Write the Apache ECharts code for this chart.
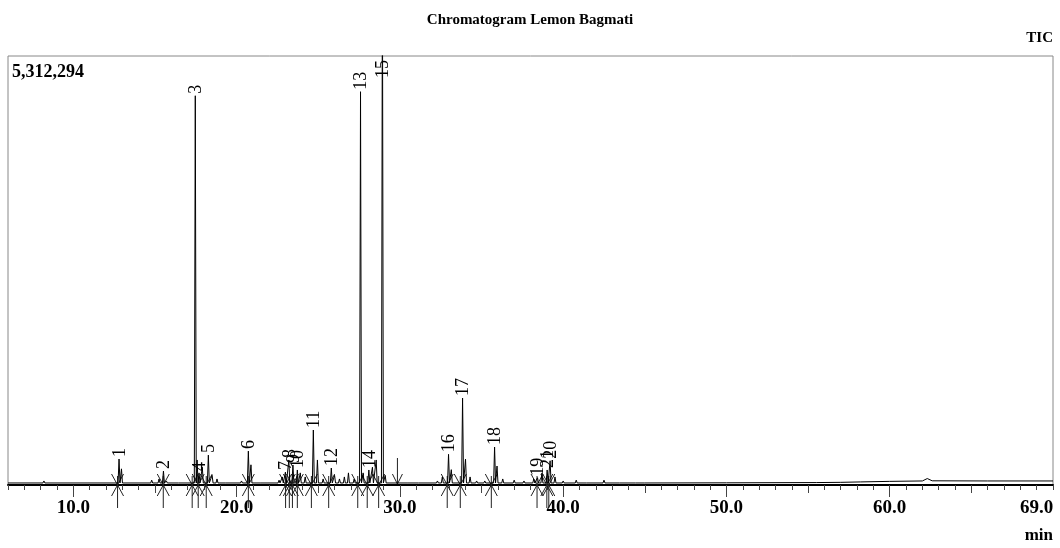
<!DOCTYPE html>
<html lang="en">
<head>
<meta charset="UTF-8">
<title>Chromatogram Lemon Bagmati</title>
<script src="https://cdn.jsdelivr.net/npm/echarts@6.0.0/dist/echarts.min.js"></script>
<style>
  html, body { margin: 0; padding: 0; background: #fff; }
  #chart { width: 1060px; height: 548px; }
</style>
</head>
<body>
<div id="chart"></div>
<script>
const fullScale = 5312294;

// numbered peaks: label, retention time (min), height (counts)
const peakNo     = ['1', '2', '3', '4', '5', '6', '7', '8', '9', '10', '11', '12', '13', '14', '15', '16', '17', '18', '19', '21', '20'];
const peakTime   = [12.80, 15.52, 17.47, 17.70, 18.27, 20.72, 22.99, 23.20, 23.45, 23.72, 24.70, 25.80, 27.59, 28.10, 28.93, 32.98, 33.84, 35.80, 38.43, 39.02, 39.20];
const peakHeight = [322000, 173000, 4820000, 150000, 370000, 420000, 160000, 310000, 248000, 186000, 681000, 210000, 4870000, 186000, 6400000, 380000, 1077000, 470000, 90000, 186000, 300000];

// small unlabelled peaks
const minorTime   = [8.2, 9.0, 12.95, 14.8, 15.25, 15.7, 16.5, 17.58, 17.9, 18.5, 18.8, 19.4, 20.3, 20.88, 21.5, 22.6, 22.8, 23.9, 24.2, 24.95, 25.3, 26.0, 26.3, 26.6, 26.85, 27.2, 27.75, 28.32, 28.55, 29.1, 30.5, 31.2, 32.3, 32.6, 33.15, 34.02, 34.3, 34.7, 35.2, 35.95, 36.3, 37.0, 37.6, 38.2, 38.7, 39.5, 40.0, 40.8, 41.5, 42.5, 43.5, 44.5];
const minorHeight = [50000, 40000, 200000, 60000, 75000, 50000, 40000, 310000, 220000, 120000, 75000, 40000, 50000, 250000, 40000, 60000, 100000, 150000, 100000, 310000, 75000, 120000, 75000, 100000, 150000, 75000, 150000, 220000, 310000, 120000, 40000, 40000, 50000, 100000, 190000, 320000, 100000, 50000, 50000, 235000, 75000, 60000, 50000, 75000, 150000, 100000, 50000, 60000, 40000, 60000, 40000, 40000];

// baseline level and late (drifting) baseline
const baseLevel = 25000;
const lateBaseTime  = [45.0, 50.0, 55.5, 57.0, 58.2, 60.0, 62.0, 62.3, 62.6, 66.0, 70.0];
const lateBaseValue = [25000, 27000, 30000, 33000, 38000, 45000, 50000, 80000, 52000, 50000, 50000];

// integration markers (start arrows) and a single down arrow
const markTime = [12.71, 15.51, 17.28, 17.65, 18.14, 20.72, 23.0, 23.23, 23.42, 23.72, 24.58, 25.64, 27.42, 28.0, 28.7, 32.9, 33.7, 35.6, 38.4, 39.0, 39.12];
const downMarkTime = [29.85];

const tickLabels = [10, 20, 30, 40, 50, 60, 69];
const mediumTicks = [15, 25, 35, 45, 55, 65];
const majorTicks = [10, 20, 30, 40, 50, 60];

const halfWidth = 0.06;
const allPeaks = peakTime.map((t, i) => [t, peakHeight[i]])
  .concat(minorTime.map((t, i) => [t, minorHeight[i]]))
  .sort((a, b) => a[0] - b[0]);
const trace = [[6, baseLevel]];
allPeaks.forEach(([t, h]) => {
  trace.push([t - halfWidth, baseLevel], [t, h], [t + halfWidth, baseLevel]);
});
lateBaseTime.forEach((t, i) => trace.push([t, lateBaseValue[i]]));

const serif = '"Liberation Serif", "Times New Roman", serif';

function baseAxis(extra) {
  return Object.assign({
    type: 'value', min: 6, max: 70, position: 'bottom',
    axisLine: { show: false },
    axisTick: { show: false },
    axisLabel: { show: false },
    splitLine: { show: false }
  }, extra);
}

const option = {
  animation: false,
  title: {
    text: 'Chromatogram Lemon Bagmati',
    left: 'center', top: 8,
    textStyle: { fontFamily: serif, fontWeight: 'bold', fontSize: 15, color: '#000' }
  },
  grid: {
    left: 8, right: 7, top: 56, bottom: 63,
    show: true, borderColor: '#888', borderWidth: 1
  },
  xAxis: [
    baseAxis({
      interval: 1,
      axisLine: { show: true, onZero: false, lineStyle: { color: '#000', width: 2 } },
      axisTick: { show: true, length: 5, lineStyle: { color: '#444' } },
      axisLabel: {
        show: true, customValues: tickLabels, margin: 14,
        formatter: v => v.toFixed(1),
        fontFamily: serif, fontWeight: 'bold', fontSize: 19, color: '#000'
      }
    }),
    baseAxis({ axisTick: { show: true, length: 8, customValues: mediumTicks, lineStyle: { color: '#444' } } }),
    baseAxis({ axisTick: { show: true, length: 12, customValues: majorTicks, lineStyle: { color: '#444' } } })
  ],
  yAxis: { type: 'value', min: 0, max: fullScale, show: false },
  graphic: [
    { type: 'text', right: 7, top: 31, style: { text: 'TIC', font: 'bold 15px ' + serif, fill: '#000' } },
    { type: 'text', left: 12, top: 63, style: { text: '5,312,294', font: 'bold 18px ' + serif, fill: '#000' } },
    { type: 'text', right: 7, top: 527, style: { text: 'min', font: 'bold 17px ' + serif, fill: '#000' } }
  ],
  series: [
    {
      type: 'line',
      data: trace,
      showSymbol: false,
      clip: true,
      lineStyle: { color: '#000', width: 1 },
      z: 3
    },
    {
      type: 'custom',
      data: markTime.map(t => [t, 0]),
      clip: false,
      z: 2,
      renderItem(params, api) {
        const p = api.coord([api.value(0), 0]);
        const x = p[0], yb = p[1] - 1;
        const st = { stroke: '#222', lineWidth: 1 };
        return {
          type: 'group',
          children: [
            { type: 'line', shape: { x1: x, y1: yb - 8, x2: x, y2: yb + 24 }, style: st },
            { type: 'line', shape: { x1: x - 6, y1: yb - 10, x2: x + 6, y2: yb + 12 }, style: st },
            { type: 'line', shape: { x1: x + 6, y1: yb - 10, x2: x - 6, y2: yb + 12 }, style: st }
          ]
        };
      }
    },
    {
      type: 'custom',
      data: downMarkTime.map(t => [t, 0]),
      clip: false,
      z: 2,
      renderItem(params, api) {
        const p = api.coord([api.value(0), 0]);
        const x = p[0], yb = p[1] - 1;
        const st = { stroke: '#222', lineWidth: 1 };
        return {
          type: 'group',
          children: [
            { type: 'line', shape: { x1: x, y1: yb - 26, x2: x, y2: yb }, style: st },
            { type: 'line', shape: { x1: x - 5, y1: yb - 10, x2: x, y2: yb }, style: st },
            { type: 'line', shape: { x1: x + 5, y1: yb - 10, x2: x, y2: yb }, style: st }
          ]
        };
      }
    },
    {
      type: 'custom',
      data: peakTime.map((t, i) => [t, Math.min(peakHeight[i], fullScale), i]),
      clip: false,
      z: 4,
      renderItem(params, api) {
        const p = api.coord([api.value(0), api.value(1)]);
        const top = params.coordSys.y;
        const y = Math.max(p[1] - 2, top + 22);
        return {
          type: 'text',
          x: p[0] + 1,
          y: y,
          rotation: Math.PI / 2,
          style: {
            text: peakNo[api.value(2)],
            font: '18px ' + serif,
            fill: '#000',
            align: 'left',
            verticalAlign: 'middle'
          }
        };
      }
    }
  ]
};

echarts.init(document.getElementById('chart')).setOption(option);
</script>
</body>
</html>
